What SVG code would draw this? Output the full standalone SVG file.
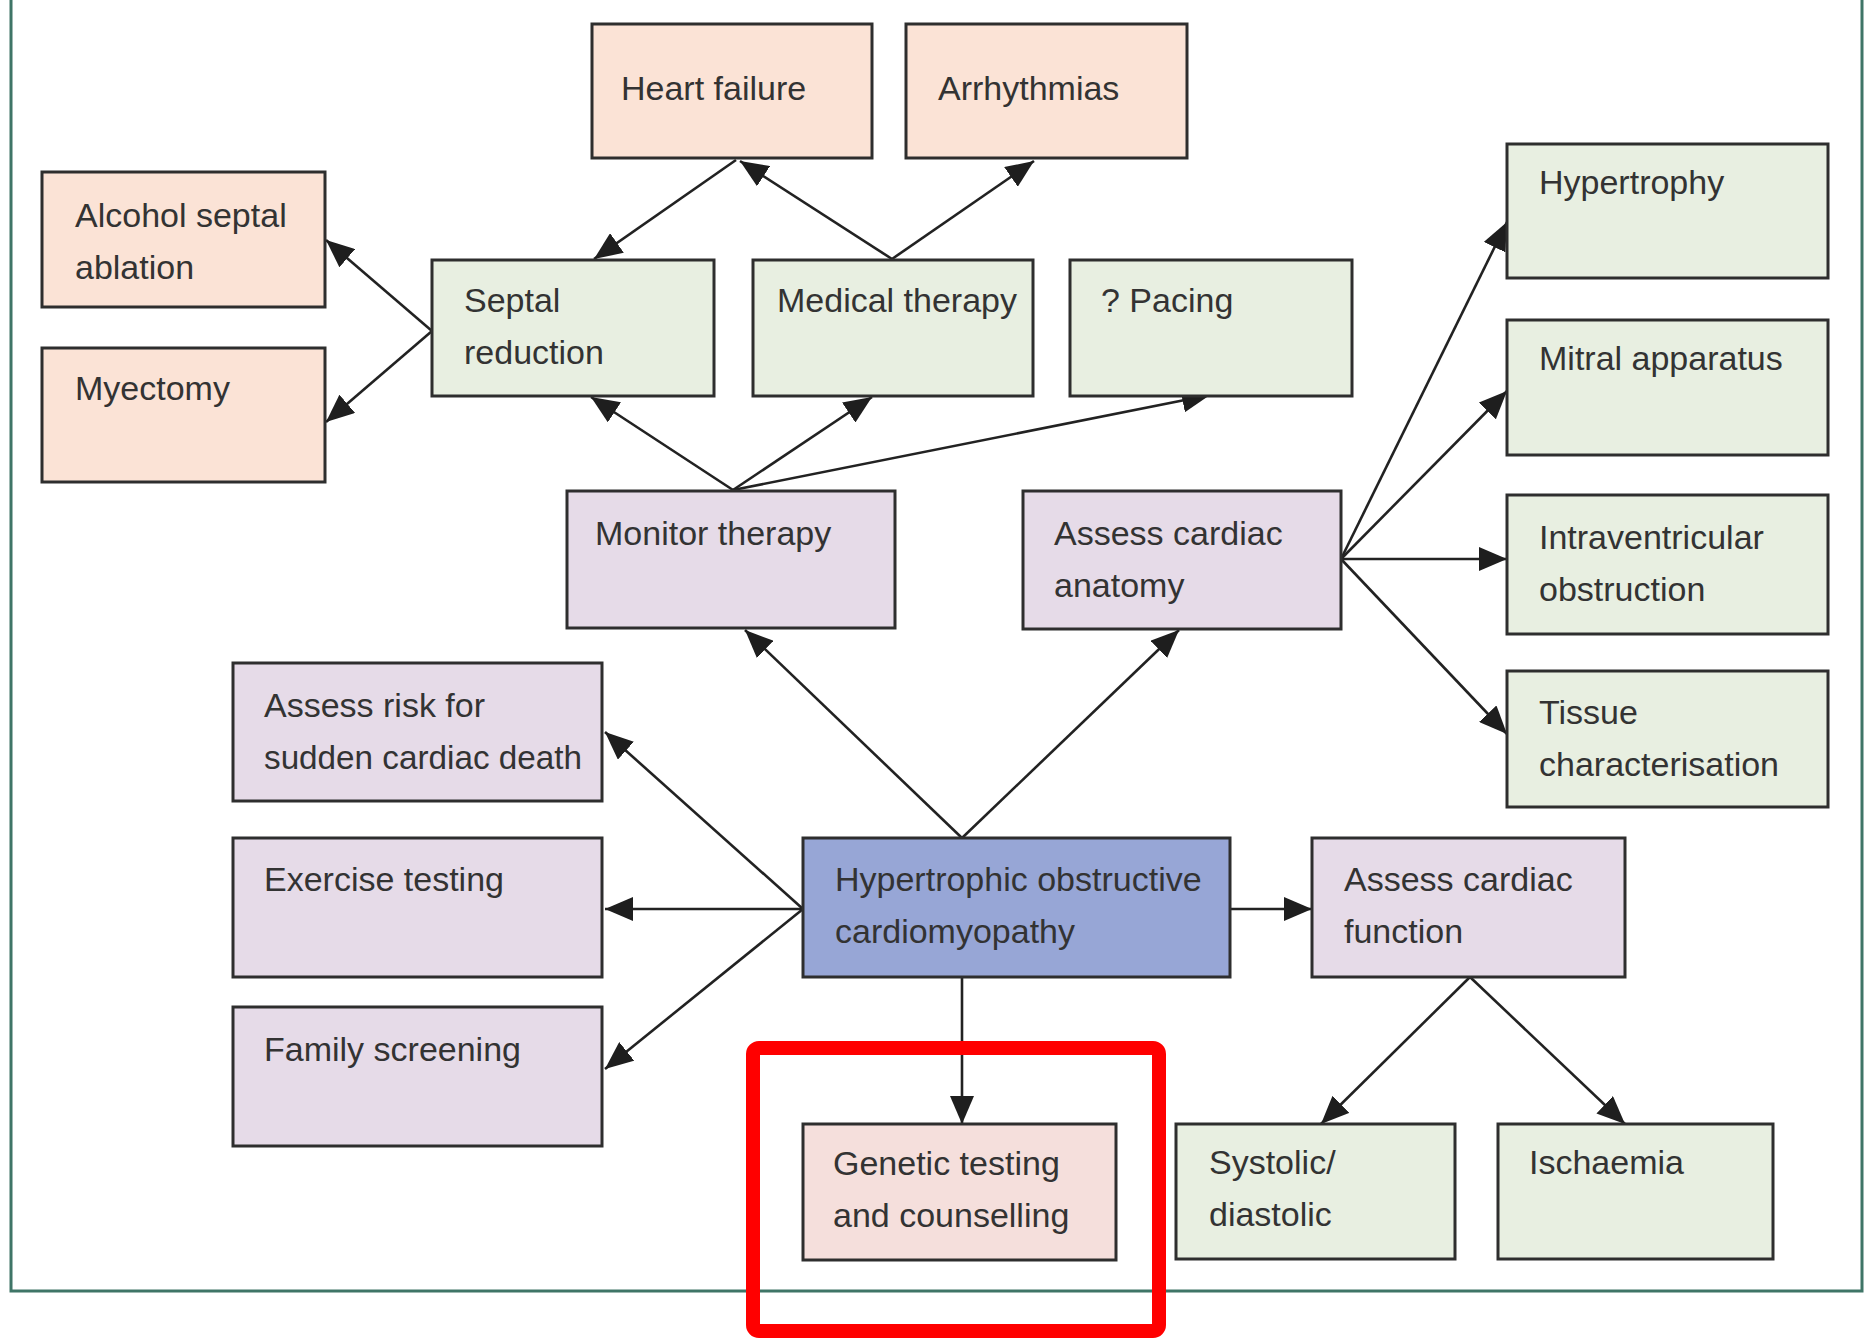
<svg xmlns="http://www.w3.org/2000/svg" width="1865" height="1340" viewBox="0 0 1865 1340">
  <defs>
    <marker id="arrow" markerUnits="userSpaceOnUse" viewBox="0 0 28 24" refX="28" refY="12" markerWidth="28" markerHeight="24" orient="auto">
      <path d="M0,0 L28,12 L0,24 z" fill="#1e1e1e"/>
    </marker>
    <style>
      .box { stroke: #2e2e2e; stroke-width: 3; }
      .peach { fill: #fbe3d6; }
      .green { fill: #e8efe1; }
      .lav { fill: #e6dbe8; }
      .blue { fill: #97a6d6; }
      .pink { fill: #f5dfdc; }
      .lbl { font-family: "Liberation Sans", Arial, sans-serif; font-size: 34px; fill: #333; }
      .edge { stroke: #222; stroke-width: 2.6; fill: none; marker-end: url(#arrow); }
    </style>
  </defs>

  <rect width="1865" height="1340" fill="#ffffff"/>

  <!-- outer frame, open at the top -->
  <path d="M11,-5 V1291 H1862 V-5" fill="none" stroke="#3f7567" stroke-width="3"/>

  <g id="connectors">
    <line class="edge" x1="736" y1="160" x2="594" y2="259"/>
    <line class="edge" x1="892" y1="259" x2="740" y2="161"/>
    <line class="edge" x1="892" y1="259" x2="1034" y2="161"/>
    <line class="edge" x1="432" y1="331" x2="326" y2="240"/>
    <line class="edge" x1="432" y1="331" x2="326" y2="422"/>
    <line class="edge" x1="733" y1="490" x2="591" y2="397"/>
    <line class="edge" x1="733" y1="490" x2="872" y2="397"/>
    <line class="edge" x1="733" y1="490" x2="1210" y2="395"/>
    <line class="edge" x1="962" y1="838" x2="745" y2="630"/>
    <line class="edge" x1="962" y1="838" x2="1179" y2="630"/>
    <line class="edge" x1="1341" y1="559" x2="1507" y2="222"/>
    <line class="edge" x1="1341" y1="559" x2="1507" y2="391"/>
    <line class="edge" x1="1341" y1="559" x2="1507" y2="559"/>
    <line class="edge" x1="1341" y1="559" x2="1507" y2="734"/>
    <line class="edge" x1="803" y1="909" x2="605" y2="732"/>
    <line class="edge" x1="803" y1="909" x2="605" y2="909"/>
    <line class="edge" x1="803" y1="909" x2="605" y2="1069"/>
    <line class="edge" x1="962" y1="977" x2="962" y2="1124"/>
    <line class="edge" x1="1230" y1="909" x2="1312" y2="909"/>
    <line class="edge" x1="1470" y1="977" x2="1321" y2="1124"/>
    <line class="edge" x1="1470" y1="977" x2="1625" y2="1124"/>
  </g>

  <g id="heart-failure">
    <rect class="box peach" x="592" y="24" width="280" height="134"/>
    <text class="lbl" x="621" y="100">Heart failure</text>
  </g>
  <g id="arrhythmias">
    <rect class="box peach" x="906" y="24" width="281" height="134"/>
    <text class="lbl" x="938" y="100">Arrhythmias</text>
  </g>
  <g id="alcohol-septal-ablation">
    <rect class="box peach" x="42" y="172" width="283" height="135"/>
    <text class="lbl" x="75" y="227">Alcohol septal</text>
    <text class="lbl" x="75" y="279">ablation</text>
  </g>
  <g id="myectomy">
    <rect class="box peach" x="42" y="348" width="283" height="134"/>
    <text class="lbl" x="75" y="400">Myectomy</text>
  </g>
  <g id="septal-reduction">
    <rect class="box green" x="432" y="260" width="282" height="136"/>
    <text class="lbl" x="464" y="312">Septal</text>
    <text class="lbl" x="464" y="364">reduction</text>
  </g>
  <g id="medical-therapy">
    <rect class="box green" x="753" y="260" width="280" height="136"/>
    <text class="lbl" x="777" y="312">Medical therapy</text>
  </g>
  <g id="pacing">
    <rect class="box green" x="1070" y="260" width="282" height="136"/>
    <text class="lbl" x="1101" y="312">? Pacing</text>
  </g>
  <g id="hypertrophy">
    <rect class="box green" x="1507" y="144" width="321" height="134"/>
    <text class="lbl" x="1539" y="194">Hypertrophy</text>
  </g>
  <g id="mitral-apparatus">
    <rect class="box green" x="1507" y="320" width="321" height="135"/>
    <text class="lbl" x="1539" y="370">Mitral apparatus</text>
  </g>
  <g id="intraventricular-obstruction">
    <rect class="box green" x="1507" y="495" width="321" height="139"/>
    <text class="lbl" x="1539" y="549">Intraventricular</text>
    <text class="lbl" x="1539" y="601">obstruction</text>
  </g>
  <g id="tissue-characterisation">
    <rect class="box green" x="1507" y="671" width="321" height="136"/>
    <text class="lbl" x="1539" y="724">Tissue</text>
    <text class="lbl" x="1539" y="776">characterisation</text>
  </g>
  <g id="monitor-therapy">
    <rect class="box lav" x="567" y="491" width="328" height="137"/>
    <text class="lbl" x="595" y="545">Monitor therapy</text>
  </g>
  <g id="assess-cardiac-anatomy">
    <rect class="box lav" x="1023" y="491" width="318" height="138"/>
    <text class="lbl" x="1054" y="545">Assess cardiac</text>
    <text class="lbl" x="1054" y="597">anatomy</text>
  </g>
  <g id="assess-risk">
    <rect class="box lav" x="233" y="663" width="369" height="138"/>
    <text class="lbl" x="264" y="717">Assess risk for</text>
    <text class="lbl" x="264" y="769" textLength="318" lengthAdjust="spacingAndGlyphs">sudden cardiac death</text>
  </g>
  <g id="exercise-testing">
    <rect class="box lav" x="233" y="838" width="369" height="139"/>
    <text class="lbl" x="264" y="891">Exercise testing</text>
  </g>
  <g id="family-screening">
    <rect class="box lav" x="233" y="1007" width="369" height="139"/>
    <text class="lbl" x="264" y="1061">Family screening</text>
  </g>
  <g id="hocm">
    <rect class="box blue" x="803" y="838" width="427" height="139"/>
    <text class="lbl" x="835" y="891">Hypertrophic obstructive</text>
    <text class="lbl" x="835" y="943">cardiomyopathy</text>
  </g>
  <g id="assess-cardiac-function">
    <rect class="box lav" x="1312" y="838" width="313" height="139"/>
    <text class="lbl" x="1344" y="891">Assess cardiac</text>
    <text class="lbl" x="1344" y="943">function</text>
  </g>
  <g id="genetic-testing">
    <rect class="box pink" x="803" y="1124" width="313" height="136"/>
    <text class="lbl" x="833" y="1175">Genetic testing</text>
    <text class="lbl" x="833" y="1227">and counselling</text>
  </g>
  <g id="systolic-diastolic">
    <rect class="box green" x="1176" y="1124" width="279" height="135"/>
    <text class="lbl" x="1209" y="1174">Systolic/</text>
    <text class="lbl" x="1209" y="1226">diastolic</text>
  </g>
  <g id="ischaemia">
    <rect class="box green" x="1498" y="1124" width="275" height="135"/>
    <text class="lbl" x="1529" y="1174">Ischaemia</text>
  </g>

  <!-- highlight around the genetic testing node -->
  <rect x="753" y="1048" width="406" height="283" rx="6" fill="none" stroke="#ff0000" stroke-width="14"/>
</svg>
